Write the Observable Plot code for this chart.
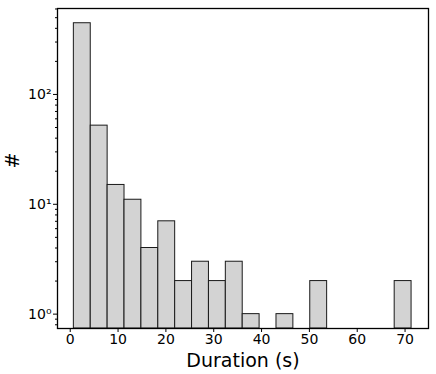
<!DOCTYPE html>
<html>
<head>
<meta charset="utf-8">
<script src="https://cdn.jsdelivr.net/npm/d3@7"></script>
<script src="https://cdn.jsdelivr.net/npm/@observablehq/plot@0.6"></script>
<style>
  html, body { margin: 0; padding: 0; background: #fff; }
</style>
</head>
<body>
<div id="chart"></div>
<script>
// Histogram bin edges (seconds) and counts
const binEdges = [0.76, 4.29, 7.82, 11.35, 14.88, 18.41, 21.94, 25.47, 29.0, 32.53, 36.06,
                  39.59, 43.12, 46.65, 50.18, 53.71, 57.24, 60.77, 64.3, 67.83, 71.36];
const counts = [445, 52, 15, 11, 4, 7, 2, 3, 2, 3, 1, 0, 1, 0, 2, 0, 0, 0, 0, 2];

const xTicks = [0, 10, 20, 30, 40, 50, 60, 70];
const yTicks = [1, 10, 100];
const yTickLabels = ["10⁰", "10¹", "10²"];
const yMinorTicks = [0.8, 0.9, 2, 3, 4, 5, 6, 7, 8, 9, 20, 30, 40, 50, 60, 70, 80, 90, 200, 300, 400, 500, 600];

const xLabel = "Duration (s)";
const yLabel = "#";

const yMin = 0.74;
const data = counts
  .map((c, i) => ({x1: binEdges[i], x2: binEdges[i + 1], count: c}))
  .filter(d => d.count > 0);

const chart = Plot.plot({
  width: 436,
  height: 374,
  marginLeft: 57,
  marginRight: 8,
  marginTop: 8,
  marginBottom: 46,
  style: {fontFamily: "DejaVu Sans", fontSize: "14px", color: "#000", background: "#fff"},
  x: {domain: [-2.66, 74.9]},
  y: {type: "log", domain: [yMin, 606]},
  marks: [
    Plot.rect(data, {
      x1: "x1", x2: "x2", y1: () => yMin, y2: "count",
      fill: "#d3d3d3", stroke: "#1a1a1a", strokeWidth: 1
    }),
    Plot.axisX({ticks: xTicks, tickSize: 4, tickPadding: 2, label: null, stroke: "#000"}),
    Plot.axisY({ticks: yTicks, tickSize: 4, tickPadding: 2, label: null,
      tickFormat: (d) => yTickLabels[yTicks.indexOf(d)], stroke: "#000"}),
    Plot.axisY({ticks: yMinorTicks, tickSize: 2, tickFormat: () => "", label: null, stroke: "#000"}),
    Plot.frame({stroke: "#000", strokeWidth: 1.3}),
    Plot.text([xLabel], {frameAnchor: "bottom", dy: 32, text: d => d, fontSize: 19, lineAnchor: "middle"}),
    Plot.text([yLabel], {frameAnchor: "left", dx: -45, text: d => d, fontSize: 19, rotate: -90, lineAnchor: "middle"})
  ]
});
document.getElementById("chart").appendChild(chart);
</script>
</body>
</html>
